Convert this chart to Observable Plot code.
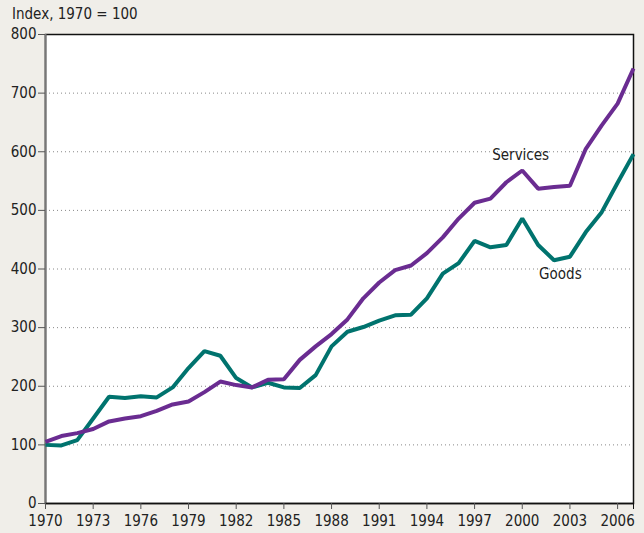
<!DOCTYPE html>
<html>
<head>
<meta charset="utf-8">
<script src="https://cdn.jsdelivr.net/npm/d3@7"></script>
<script src="https://cdn.jsdelivr.net/npm/@observablehq/plot@0.6"></script>
<style>
  html, body { margin: 0; padding: 0; background: #f0eee9; }
  body { width: 644px; height: 533px; overflow: hidden; font-family: "Liberation Sans Narrow", "DejaVu Sans Condensed", sans-serif; }
  #title { height: 26px; font-size: 15px; color: #222; padding-left: 12px; line-height: 28px; box-sizing: border-box; }
  svg { display: block; }
</style>
</head>
<body>
<div id="title">Index, 1970 = 100</div>
<div id="chart"></div>
<script>
const years = d3.range(1970, 2008);
const goods = [100, 99, 108, 145, 182, 180, 183, 181, 198, 231, 260, 252, 214, 198, 206, 198, 197, 219,
  268, 293, 301, 312, 321, 322, 350, 392, 410, 448, 437, 441, 486, 441, 415, 421, 463, 497, 547, 596];
const services = [105, 115, 120, 127, 140, 145, 149, 158, 169, 174, 190, 208, 202, 198, 211, 212, 245, 268,
  289, 314, 350, 377, 398, 406, 427, 454, 486, 513, 520, 548, 568, 537, 540, 542, 605, 645, 682, 742];
const xTicks = d3.range(1970, 2007, 3);
const yTicks = d3.range(0, 801, 100);
const labelNames = ["Services", "Goods"];
const labelYears = [1999.9, 2002.4];
const labelValues = [594, 392];

const rows = [];
years.forEach((yr, i) => {
  rows.push({year: yr, value: goods[i], series: "Goods"});
  rows.push({year: yr, value: services[i], series: "Services"});
});
const labels = labelNames.map((n, i) => ({name: n, year: labelYears[i], value: labelValues[i]}));

const chart = Plot.plot({
  width: 644,
  height: 507,
  marginTop: 8,
  marginBottom: 30,
  marginLeft: 45,
  marginRight: 11,
  style: {background: "transparent", fontFamily: "'Liberation Sans Narrow', 'DejaVu Sans Condensed', sans-serif", fontSize: "15px", color: "#222"},
  x: {domain: [1970, 2007]},
  y: {domain: [0, 800]},
  color: {domain: ["Goods", "Services"], range: ["#00736e", "#6a2c91"]},
  marks: [
    Plot.frame({fill: "white", stroke: "none"}),
    Plot.gridY(yTicks.filter(d => d > 0 && d < 800), {stroke: "#888", strokeOpacity: 1, strokeDasharray: "1,3", strokeWidth: 1}),
    Plot.frame({stroke: "#111", strokeWidth: 1.5}),
    Plot.ruleX([1970], {stroke: "#777", strokeWidth: 2}),
    Plot.ruleY([0], {stroke: "#111", strokeWidth: 1.5}),
    Plot.axisX({ticks: xTicks, tickFormat: "d", tickSize: 6, tickPadding: 6, label: null, stroke: "#555"}),
    Plot.axisX({ticks: [2007], tickFormat: () => "", tickSize: 6, label: null, stroke: "#111"}),
    Plot.axisY({ticks: yTicks, tickFormat: "d", tickSize: 7, tickPadding: 2, label: null, stroke: "#555"}),
    Plot.line(rows, {x: "year", y: "value", stroke: "series", z: "series", strokeWidth: 4, strokeLinejoin: "miter", strokeLinecap: "butt"}),
    Plot.text(labels, {x: "year", y: "value", text: "name", fill: "#222", fontSize: 15})
  ]
});
document.getElementById("chart").appendChild(chart);
</script>
</body>
</html>
